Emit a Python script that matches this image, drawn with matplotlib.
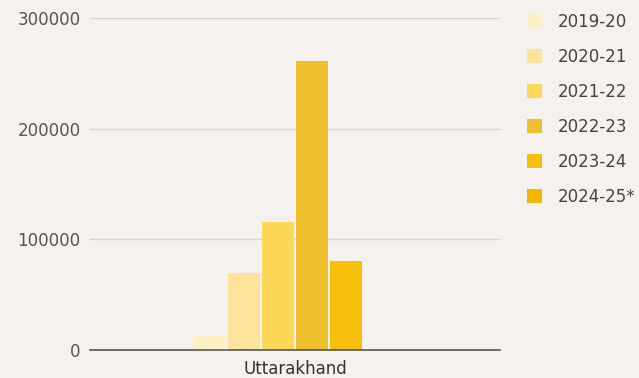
import matplotlib
matplotlib.use("Agg")
from matplotlib import pyplot as plt
from matplotlib.patches import Patch

# data
years = ["2019-20", "2020-21", "2021-22", "2022-23", "2023-24", "2024-25*"]
values = [13000, 69500, 115500, 261500, 80500, 0]
colors = ["#fdf1c4", "#fde39a", "#fdd858", "#f0bf2e", "#f6bf0a", "#f2b700"]
category = "Uttarakhand"
y_ticks = [0, 100000, 200000, 300000]

bg = "#f4f1ef"
plt.rcParams['font.family'] = ['DejaVu Sans']

fig = plt.figure(figsize=(6.39, 3.78), dpi=100, facecolor=bg)
ax = fig.add_axes([0.141, 0.074, 0.641, 0.878], facecolor=bg)

width = 0.166
n = len(years)
for i in range(n):
    x = (i - (n - 1) / 2) * width
    ax.bar(x, values[i], width=width * 0.92, color=colors[i], zorder=3)

ax.set_xlim(-1, 1)
ax.set_ylim(0, 300000)
ax.set_yticks(y_ticks)
ax.set_yticklabels([str(v) for v in y_ticks], fontsize=12, color="#555555")
ax.set_xticks([0])
ax.set_xticklabels([category], fontsize=12, color="#333333")
ax.tick_params(axis="y", length=0, pad=7)
ax.tick_params(axis="x", length=0, pad=7)
ax.grid(axis="y", color="#d8d6d4", linewidth=1, zorder=0)
for s in ["top", "right", "left"]:
    ax.spines[s].set_visible(False)
ax.spines["bottom"].set_color("#555555")
ax.spines["bottom"].set_linewidth(1.2)
ax.spines["bottom"].set_zorder(4)

handles = [Patch(facecolor=colors[i], label=years[i]) for i in range(n)]
leg = fig.legend(handles=handles, loc="upper left", bbox_to_anchor=(0.802, 1.006),
                 frameon=False, fontsize=12, handlelength=0.9, handleheight=0.9,
                 labelspacing=1.02, handletextpad=0.9)
for t in leg.get_texts():
    t.set_color("#444444")

fig.savefig("out.png", dpi=100, facecolor=bg)
